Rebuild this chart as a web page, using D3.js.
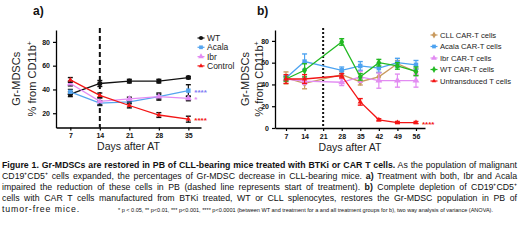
<!DOCTYPE html>
<html>
<head>
<meta charset="utf-8">
<script src="https://cdn.jsdelivr.net/npm/d3@7"></script>
<style>
  body { margin: 0; background: #fff; }
  svg { display: block; font-family: "Liberation Sans", Arial, sans-serif; }
  .tick text { font-weight: bold; font-size: 7px; }
</style>
</head>
<body>
<div id="chart"></div>
<script>
// panel a
const daysA = [7, 14, 21, 28, 35];
const ticksAY = [20, 40, 60, 80];
const seriesA = ["WT", "Acala", "Ibr", "Control"];
const wtA = [36, 45, 47, 47, 50];
const wtAErr = [2, 2.5, 1.5, 1.5, 1];
const acalaA = [38, 28.5, 29.5, 34, 39];
const acalaAErr = [2, 2, 1.5, 3, 5];
const ibrA = [45, 30, 32, 34, 32.5];
const ibrAErr = [2, 3, 1.5, 2, 2];
const ctrlA = [48, 35, 26.5, 18.5, 15];
const ctrlAErr = [2, 2, 2, 2, 2.5];
const starsA = ["", "****", "*", "****"];

// panel b
const daysB = [7, 14, 28, 35, 42, 49, 56];
const ticksBX = [7, 14, 21, 28, 35, 42, 49, 56];
const ticksBY = [0, 20, 40, 60, 80];
const seriesB = ["CLL CAR-T cells", "Acala CAR-T cells", "Ibr CAR-T cells", "WT CAR-T cells", "Untransduced T cells"];
const cllB = [46, 41, 49, 42.5, 47, 59, 51.5];
const cllBErr = [5.5, 5, 3, 3, 4, 3, 3];
const acalaB = [46, 61, 53, 57, 55, 60, 58];
const acalaBErr = [2, 7, 3, 4, 4, 4, 4];
const ibrB = [45, 43, 42, 47, 43.5, 43.5, 43.5];
const ibrBErr = [2, 3, 3, 5, 7, 6, 6];
const wtB = [45, 53, 79, 47, 60, 57, 52];
const wtBErr = [2, 6, 3, 3, 3, 3, 4];
const untrB = [45, 45, 48, 24, 7.5, 5, 5];
const untrBErr = [4, 4, 2, 3, 1, 1, 1];

const captionLines = [
  [["b", "Figure 1. Gr-MDSCs are restored in PB of CLL-bearing mice treated with BTKi or CAR T cells."], ["n", " As the population of malignant"]],
  [["n", "CD19\u207ACD5\u207A cells expanded, the percentages of Gr-MDSC decrease in CLL-bearing mice. "], ["b", "a)"], ["n", " Treatment with both, Ibr and Acala"]],
  [["n", "impaired the reduction of these cells in PB (dashed line represents start of treatment). "], ["b", "b)"], ["n", " Complete depletion of CD19\u207ACD5\u207A"]],
  [["n", "cells with CAR T cells manufactured from BTKi treated, WT or CLL splenocytes, restores the Gr-MDSC population in PB of"]]
];
const captionEnd = "tumor-free mice.";
const captionNote = "* p < 0.05, ** p<0.01, *** p<0.001, **** p<0.0001 (between WT and treatment for a and all treatment groups for b), two way analysis of variance (ANOVA).";

const svg = d3.select("#chart").append("svg").attr("width", 520).attr("height", 240);

function panel(cfg) {
  const g = svg.append("g");
  const x = d3.scaleLinear().domain(cfg.xDomain).range(cfg.xRange);
  const y = d3.scaleLinear().domain(cfg.yDomain).range(cfg.yRange);

  // treatment start line
  g.append("line")
    .attr("x1", x(cfg.start)).attr("x2", x(cfg.start))
    .attr("y1", cfg.yRange[1] - 2).attr("y2", cfg.yRange[0])
    .attr("stroke", "#111").attr("stroke-width", 2)
    .attr("stroke-dasharray", cfg.dash);

  g.append("g")
    .attr("transform", `translate(0,${cfg.yRange[0]})`)
    .call(d3.axisBottom(x).tickValues(cfg.xTicks).tickSize(3).tickSizeOuter(0))
    .call(a => a.select(".domain").attr("stroke-width", 1.3));
  g.append("g")
    .attr("transform", `translate(${cfg.xRange[0]},0)`)
    .call(d3.axisLeft(y).tickValues(cfg.yTicks).tickSize(3).tickSizeOuter(0))
    .call(a => a.select(".domain").attr("stroke-width", 1.3));
  g.selectAll(".tick line").attr("stroke-width", 1.2);
  g.selectAll(".tick text").attr("fill", "#111");

  const line = d3.line().x(d => x(d[0])).y(d => y(d[1]));
  cfg.series.forEach(s => {
    const pts = cfg.days.map((d, i) => [d, s.values[i], s.err[i]]);
    const c = g.append("g");
    c.append("path").datum(pts).attr("d", line)
      .attr("fill", "none").attr("stroke", s.color).attr("stroke-width", 1.3);
    const eb = cfg.barColor || s.color;
    pts.forEach(p => {
      const px = x(p[0]), y0 = y(p[1] - p[2]), y1 = y(p[1] + p[2]);
      c.append("line").attr("x1", px).attr("x2", px).attr("y1", y0).attr("y2", y1)
        .attr("stroke", eb).attr("stroke-width", 1.2);
      [y0, y1].forEach(yy => c.append("line")
        .attr("x1", px - 2.5).attr("x2", px + 2.5).attr("y1", yy).attr("y2", yy)
        .attr("stroke", eb).attr("stroke-width", 1.4));
    });
    c.selectAll("path.pt").data(pts).join("path").attr("class", "pt")
      .attr("transform", p => `translate(${x(p[0])},${y(p[1])})`)
      .attr("d", d3.symbol().type(s.symbol).size(20))
      .attr("fill", s.color);
    if (s.stars) {
      const last = pts[pts.length - 1];
      g.append("text").attr("x", x(last[0]) + 6).attr("y", y(last[1]) + 4)
        .attr("font-size", 8).attr("font-weight", "bold")
        .attr("fill", s.starColor || s.color).text(s.stars);
    }
  });

  // legend
  const lg = g.append("g").attr("transform", `translate(${cfg.legend[0]},${cfg.legend[1]})`);
  cfg.series.forEach((s, i) => {
    const row = lg.append("g").attr("transform", `translate(0,${i * cfg.legendStep})`);
    row.append("line").attr("x1", -3.5).attr("x2", 3.5).attr("stroke", s.color).attr("stroke-width", 1.2);
    row.append("path").attr("d", d3.symbol().type(s.symbol).size(14)).attr("fill", s.color);
    row.append("text").attr("x", 6).attr("dy", "0.35em")
      .attr("font-size", cfg.legendFont).attr("fill", "#222").text(s.name);
  });

  // titles
  const midX = (cfg.xRange[0] + cfg.xRange[1]) / 2;
  g.append("text").attr("x", midX).attr("y", cfg.yRange[0] + 22.5)
    .attr("text-anchor", "middle").attr("font-size", 10.5).attr("fill", "#222").text("Days after AT");
  const midY = (cfg.yRange[0] + cfg.yRange[1]) / 2;
  g.append("text").attr("transform", `translate(${cfg.yLab[0]},${midY}) rotate(-90)`)
    .attr("text-anchor", "middle").attr("font-size", 11).attr("fill", "#222").text("Gr-MDSCs");
  const t2 = g.append("text").attr("transform", `translate(${cfg.yLab[1]},${midY}) rotate(-90)`)
    .attr("text-anchor", "middle").attr("font-size", 11).attr("fill", "#222");
  t2.append("tspan").text("% from CD11b");
  t2.append("tspan").attr("font-size", 7).attr("dy", -4).text("+");

  g.append("text").attr("x", cfg.label[0]).attr("y", cfg.label[1])
    .attr("font-size", 12).attr("font-weight", "bold").attr("fill", "#111").text(cfg.labelText);
}

panel({
  labelText: "a)", label: [33, 15],
  xDomain: [3.6, 38], xRange: [56, 201], yDomain: [8, 90], yRange: [127.5, 30],
  xTicks: daysA, yTicks: ticksAY, days: daysA, start: 14, dash: "5,3",
  barColor: "#111", yLab: [20, 36],
  legend: [201, 38], legendStep: 9.3, legendFont: 8.5,
  series: [
    { name: seriesA[0], values: wtA, err: wtAErr, color: "#111", symbol: d3.symbolCircle },
    { name: seriesA[1], values: acalaA, err: acalaAErr, color: "#55a5ef", symbol: d3.symbolSquare, stars: starsA[1], starColor: "#7f7cf5" },
    { name: seriesA[2], values: ibrA, err: ibrAErr, color: "#e38cf3", symbol: d3.symbolTriangle, stars: starsA[2] },
    { name: seriesA[3], values: ctrlA, err: ctrlAErr, color: "#f31515", symbol: d3.symbolTriangle2, stars: starsA[3] }
  ]
});

panel({
  labelText: "b)", label: [257, 15],
  xDomain: [2.85, 59.4], xRange: [275, 425], yDomain: [0, 90], yRange: [128, 30],
  xTicks: ticksBX, yTicks: ticksBY, days: daysB, start: 21, dash: "2,2",
  yLab: [249, 263],
  legend: [434, 35], legendStep: 11.5, legendFont: 7.6,
  series: [
    { name: seriesB[0], values: cllB, err: cllBErr, color: "#c99a5e", symbol: d3.symbolDiamond },
    { name: seriesB[1], values: acalaB, err: acalaBErr, color: "#4da3f0", symbol: d3.symbolSquare },
    { name: seriesB[2], values: ibrB, err: ibrBErr, color: "#e28cf2", symbol: d3.symbolTriangle },
    { name: seriesB[3], values: wtB, err: wtBErr, color: "#22b922", symbol: d3.symbolDiamond },
    { name: seriesB[4], values: untrB, err: untrBErr, color: "#f31515", symbol: d3.symbolTriangle2, stars: "****" }
  ]
});

// caption: justified lines, font sized so the widest line fits, gaps filled by word-spacing
const capW = 515, capX = 2, capY = 168, capStep = 10.9;
const cap = svg.append("g").attr("font-size", 10).attr("fill", "#111");
const capTexts = captionLines.map((parts, i) => {
  const t = cap.append("text").attr("x", capX).attr("y", capY + i * capStep);
  parts.forEach(p => t.append("tspan").attr("font-weight", p[0] === "b" ? "bold" : null).text(p[1]));
  return t;
});
const maxW = d3.max(capTexts, t => t.node().getComputedTextLength());
const capFont = Math.min(10, 10 * (capW - 8) / maxW);
cap.attr("font-size", capFont);
capTexts.forEach((t, i) => {
  const w = t.node().getComputedTextLength();
  const spaces = captionLines[i].map(p => p[1]).join("").split(" ").length - 1;
  t.attr("word-spacing", Math.max(0, (capW - w) / spaces));
});
cap.append("text").attr("x", capX).attr("y", capY + 4 * capStep)
  .attr("letter-spacing", 0.9).text(captionEnd);
cap.append("text").attr("x", 118).attr("y", capY + 4 * capStep).attr("font-size", 5.2)
  .attr("textLength", 375).attr("lengthAdjust", "spacingAndGlyphs").text(captionNote);
</script>
</body>
</html>
